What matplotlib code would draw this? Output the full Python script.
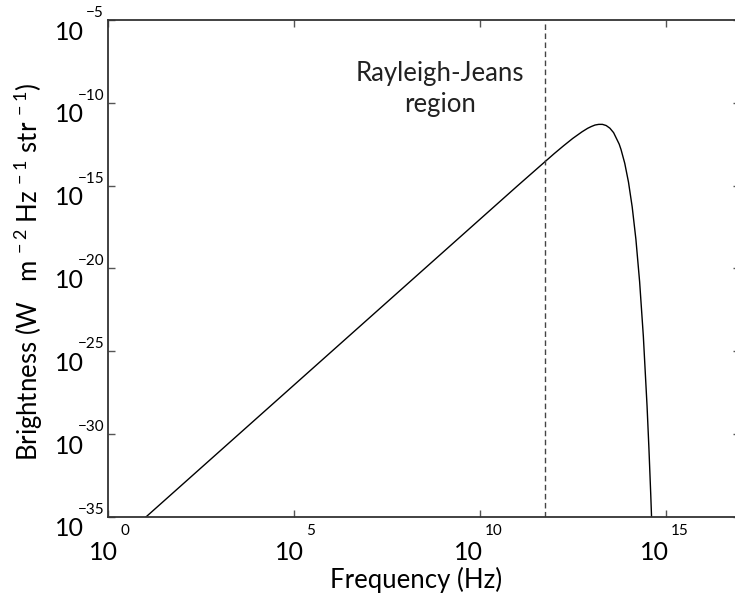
import matplotlib as mpl
mpl.use("Agg")
from matplotlib import pyplot as plt
from matplotlib import transforms as mtrans
import numpy as np

mpl.rcParams["font.family"] = ["Lato", "DejaVu Sans"]
mpl.rcParams["mathtext.fontset"] = "custom"
mpl.rcParams["mathtext.rm"] = "Lato"
mpl.rcParams["mathtext.default"] = "regular"

# curve (log10 of frequency in Hz, log10 of brightness)
log_nu = [1.0, 11.0, 12.0, 12.25, 12.5, 12.75, 12.9, 13.0, 13.1, 13.2, 13.3,
          13.4, 13.5, 13.6, 13.75, 13.8, 13.9, 14.0, 14.1, 14.2, 14.3, 14.4,
          14.5, 14.55, 14.6, 14.63]
log_B = [-35.04, -15.04, -13.07, -12.60, -12.15, -11.75, -11.54, -11.43, -11.34,
         -11.30, -11.30, -11.37, -11.53, -11.80, -12.49, -12.82, -13.65, -14.78,
         -16.28, -18.24, -20.80, -24.09, -28.31, -30.85, -33.69, -35.58]
rj_limit = 10**11.75

xtick_exp = [0, 5, 10, 15]
ytick_exp = [-5, -10, -15, -20, -25, -30, -35]

nu = 10**np.array(log_nu)
B = 10**np.array(log_B)

fig = plt.figure(figsize=(7.35, 5.96), dpi=100)
ax = fig.add_axes([108/735, 79/596, 632/735, 497/596])

ax.plot(nu, B, color="black", lw=1.0)
ax.axvline(rj_limit, color="#444444", lw=1.0, ls=(0, (4, 2.5)))

ax.set_xscale("log")
ax.set_yscale("log")
ax.set_xlim(1, 1e17)
ax.set_ylim(1e-35, 1e-5)
ax.set_xticks([10.0**e for e in xtick_exp])
ax.set_yticks([10.0**e for e in ytick_exp])
ax.minorticks_off()
ax.set_xticklabels([])
ax.set_yticklabels([])
ax.tick_params(direction="in", length=5, width=1, color="#555555",
               top=True, right=True)
for s in ax.spines.values():
    s.set_linewidth(1.3)
    s.set_color("#333333")

# MATLAB style "10" with a small raised exponent
bx = mtrans.blended_transform_factory(ax.transData, ax.transAxes)
by = mtrans.blended_transform_factory(ax.transAxes, ax.transData)
for e in xtick_exp:
    a = 10 if len(str(e)) == 1 else 3
    t1 = mtrans.offset_copy(bx, fig, x=a, y=-35, units="dots")
    t2 = mtrans.offset_copy(bx, fig, x=a + 2, y=-14, units="dots")
    ax.text(10.0**e, 0, "10", transform=t1, ha="right", va="center", fontsize=18)
    ax.text(10.0**e, 0, str(e), transform=t2, ha="left", va="center", fontsize=11)
for e in ytick_exp:
    t1 = mtrans.offset_copy(by, fig, x=-24, y=-12, units="dots")
    t2 = mtrans.offset_copy(by, fig, x=-4, y=7, units="dots")
    ax.text(0, 10.0**e, "10", transform=t1, ha="right", va="center", fontsize=18)
    ax.text(0, 10.0**e, "\u2212" + str(-e), transform=t2, ha="right", va="center", fontsize=11)

ax.set_xlabel("Frequency (Hz)", fontsize=18.5)
ax.xaxis.set_label_coords(0.487, -0.1)
fig.text(29/735, 1 - 272/596,
         "Brightness (W   m$^{\\,-2}$ Hz$^{\\,-1}$ str$^{\\,-1}$)",
         rotation=90, ha="center", va="center", fontsize=18.5)

ax.text(10**8.92, 10**-9.16, "Rayleigh-Jeans\nregion", ha="center", va="center",
        fontsize=18.5, linespacing=1.3, color="#222222")

fig.savefig("out.png", dpi=100)
